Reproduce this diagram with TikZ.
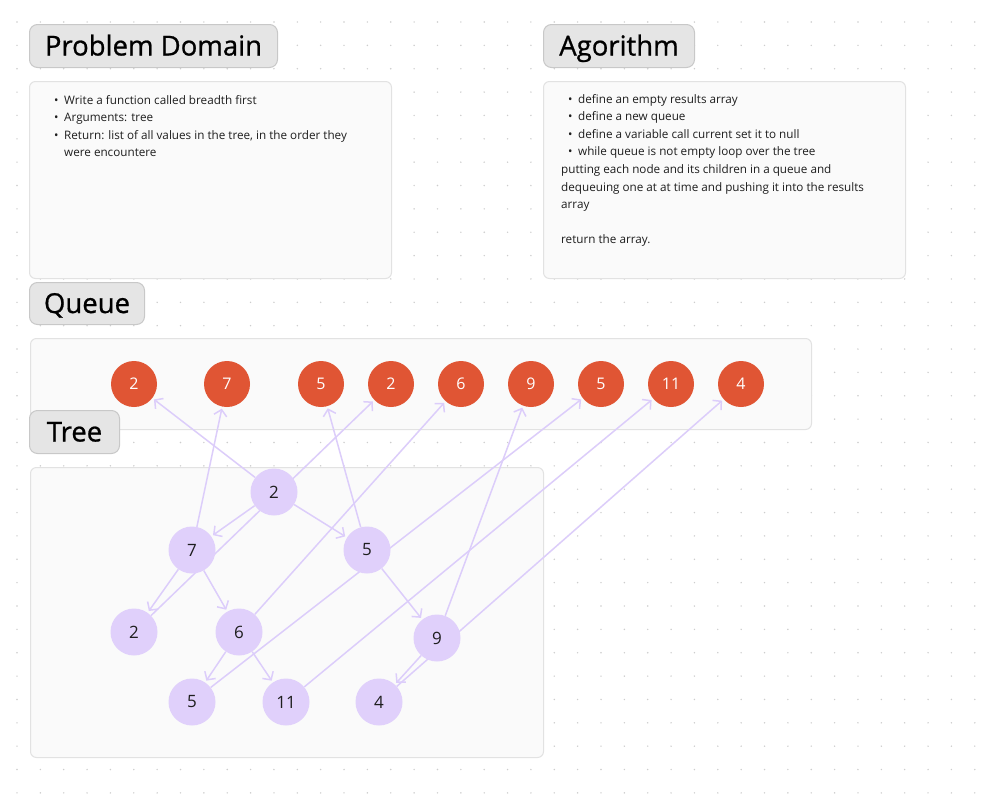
\documentclass[tikz,border=0pt]{standalone}
\usepackage{fontspec}
\setmainfont{Open Sans}
\newfontfamily\titlefont[FakeBold=0.8]{Open Sans}
\usetikzlibrary{arrows.meta}

\definecolor{gridgray}{HTML}{CDCDCD}
\definecolor{titlefill}{HTML}{E5E5E5}
\definecolor{titleline}{HTML}{C8C8C8}
\definecolor{panelfill}{HTML}{FAFAFA}
\definecolor{panelline}{HTML}{E2E2E2}
\definecolor{queuered}{HTML}{E05534}
\definecolor{treelilac}{HTML}{E0D0FB}
\definecolor{linklilac}{HTML}{DCCDFA}
\definecolor{inkgray}{HTML}{1E1E1E}

\pgfdeclarelayer{grid}
\pgfdeclarelayer{edges}
\pgfsetlayers{grid,edges,main}

\tikzset{
  title/.style={draw=titleline, fill=titlefill, line width=1pt, rounded corners=8pt,
    anchor=north west, inner sep=0pt, minimum height=43pt,
    text height=19pt, text depth=0pt,
    font=\titlefont\fontsize{27.5}{30}\selectfont},
  panel/.style={draw=panelline, fill=panelfill, line width=1pt, rounded corners=6pt,
    anchor=north west, inner sep=0pt},
  bodytext/.style={anchor=north west, inner sep=0pt, align=left,
    font=\fontsize{11.7}{17.6}\selectfont, text=inkgray},
  qnode/.style={circle, fill=queuered, minimum size=46pt, inner sep=0pt,
    text=white, font=\fontsize{16}{16}\selectfont},
  tnode/.style={circle, fill=treelilac, minimum size=47pt, inner sep=0pt,
    text=inkgray, font=\fontsize{17}{17}\selectfont},
  link/.style={draw=linklilac, line width=1.5pt, shorten >=2pt,
    -{Straight Barb[length=6pt,width=13pt,line width=1.5pt]}},
}
\newcommand{\bul}{\makebox[10pt][l]{\textbullet}}

\begin{document}
\begin{tikzpicture}[x=1pt,y=-1pt]
      \useasboundingbox (0,0) rectangle (982,806);

      \begin{pgfonlayer}{grid}
      \fill[white] (0,0) rectangle (982,806);
      %% dotted canvas
      \foreach \i in {0,...,41}
        \foreach \j in {0,...,33}
          \fill[gridgray] (17+23.36*\i, 22+23.36*\j) circle (0.8pt);

      %% panels
      \node (pdbox) at (29,81) [panel, minimum width=362pt, minimum height=197pt] {};
      \node (algbox) at (543,81) [panel, minimum width=362pt, minimum height=197pt] {};
      \node (queuebox) at (30,338) [panel, minimum width=781pt, minimum height=91pt] {};
      \node (treebox) at (30,467) [panel, minimum width=513pt, minimum height=290pt] {};
      \end{pgfonlayer}

      %% titles
      \node (pdtitle) at (29,24) [title, minimum width=248pt] {Problem Domain};
      \node (algtitle) at (543,24) [title, minimum width=151pt] {Agorithm};
      \node (queuetitle) at (29,282) [title, minimum width=115pt, minimum height=42pt] {Queue};
      \node (treetitle) at (29,410) [title, minimum width=90pt] {Tree};

      %% panel texts
      \node (pdtext) at (54,95) [bodytext] {%
        \bul Write a function called breadth first\\
        \bul Arguments: tree\\
        \bul Return: list of all values in the tree, in the order they\\
        \hspace*{10pt}were encountere};
      \node (algtext) at (561,94) [bodytext] {%
        \hspace*{7pt}\bul define an empty results array\\
        \hspace*{7pt}\bul define a new queue\\
        \hspace*{7pt}\bul define a variable call current set it to null\\
        \hspace*{7pt}\bul while queue is not empty loop over the tree\\
        putting each node and its children in a queue and\\
        dequeuing one at at time and pushing it into the results\\
        array\\[17.6pt]
        return the array.};

      %% queue
      \node (q1) at (134,384) [qnode] {2};
      \node (q2) at (227,384) [qnode] {7};
      \node (q3) at (321,384) [qnode] {5};
      \node (q4) at (391,384) [qnode] {2};
      \node (q5) at (461,384) [qnode] {6};
      \node (q6) at (531,384) [qnode] {9};
      \node (q7) at (601,384) [qnode] {5};
      \node (q8) at (671,384) [qnode] {11};
      \node (q9) at (741,384) [qnode] {4};

      %% tree
      \node (root) at (274,492) [tnode] {2};
      \node (l7) at (192,550) [tnode] {7};
      \node (r5) at (367,550) [tnode] {5};
      \node (ll2) at (134,632) [tnode] {2};
      \node (lr6) at (239,632) [tnode] {6};
      \node (rr9) at (437,638) [tnode] {9};
      \node (lrl5) at (192,702) [tnode] {5};
      \node (lrr11) at (286,702) [tnode] {11};
      \node (rrl4) at (379,702) [tnode] {4};

      \begin{pgfonlayer}{edges}
      %% parent to child
      \draw[link] (root) -- (l7);
      \draw[link] (root) -- (r5);
      \draw[link] (l7) -- (ll2);
      \draw[link] (l7) -- (lr6);
      \draw[link] (r5) -- (rr9);
      \draw[link] (lr6) -- (lrl5);
      \draw[link] (lr6) -- (lrr11);
      \draw[link] (rr9) -- (rrl4);

      %% into the queue
      \draw[link] (root) -- (q1);
      \draw[link] (l7) -- (q2);
      \draw[link] (r5) -- (q3);
      \draw[link] (ll2) -- (q4);
      \draw[link] (lr6) -- (q5);
      \draw[link] (rr9) -- (q6);
      \draw[link] (lrl5) -- (q7);
      \draw[link] (lrr11) -- (q8);
      \draw[link] (rrl4) -- (q9);
      \end{pgfonlayer}

    \end{tikzpicture}
\end{document}
